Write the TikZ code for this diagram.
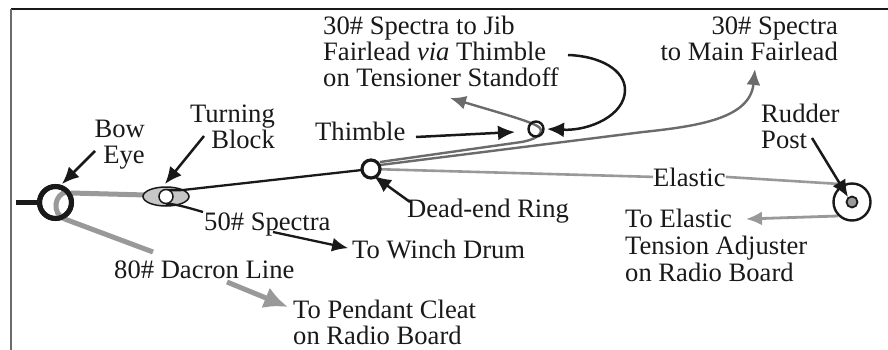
\documentclass[tikz,border=0pt]{standalone}
\usepackage{fontspec}
\setmainfont{Liberation Serif}
\usetikzlibrary{arrows.meta,shapes.geometric}
\definecolor{lgray}{gray}{0.6}
\definecolor{mgray}{gray}{0.42}
\definecolor{ink}{gray}{0.1}
\tikzset{
  x=1pt,y=-1pt,
  lbl/.style={font=\fontsize{26.6}{31}\selectfont,text=ink,inner sep=0pt},
  blackarrow/.style={draw=ink,line width=2.5pt,-{Latex[length=17pt,width=15pt]}},
  lightarrow/.style={draw=lgray,line width=2.8pt,-{Latex[length=16pt,width=14pt]}},
  heavyline/.style={draw=lgray,line width=5pt},
  thinblack/.style={draw=ink,line width=2.3pt},
  elasticline/.style={draw=lgray,line width=2.6pt},
  spectraline/.style={draw=mgray,line width=2.4pt},
  ringshape/.style={circle,draw=ink,inner sep=0pt},
}
\begin{document}
\begin{tikzpicture}
\useasboundingbox (0,0) rectangle (888,350);
\fill[white] (0,0) rectangle (888,350);
% frame
\coordinate (fa) at (11,350); \coordinate (fb) at (11,9); \coordinate (fc) at (888,9);
\draw[draw=ink,line width=1.2pt] (fb) -- (fc);
\draw[draw=mgray,line width=1.6pt] (fa) -- (fb);
% labels
\node[lbl,anchor=base east] (bow1) at (145,137) {Bow};
\node[lbl,anchor=base east] (bow2) at (145,163) {Eye};
\node[lbl,anchor=base east] (turn1) at (275,122) {Turning};
\node[lbl,anchor=base east] (turn2) at (275,148) {Block};
\node[lbl,anchor=base west] (s50) at (204,230) {50\# Spectra};
\node[lbl,anchor=base west] (d80) at (114,278) {80\# Dacron Line};
\node[lbl,anchor=base west] (winch) at (352,258) {To Winch Drum};
\node[lbl,anchor=base west] (pend1) at (293,318) {To Pendant Cleat};
\node[lbl,anchor=base west] (pend2) at (293,344) {on Radio Board};
\node[lbl,anchor=base west] (thimble) at (315,140) {Thimble};
\node[lbl,anchor=base west] (der) at (407,217) {Dead-end Ring};
\node[lbl,anchor=base west] (j1) at (323,35) {30\# Spectra to Jib};
\node[lbl,anchor=base west] (j2) at (323,61) {Fairlead \textit{via} Thimble};
\node[lbl,anchor=base west] (j3) at (323,87) {on Tensioner Standoff};
\node[lbl,anchor=base east] (m1) at (838,35) {30\# Spectra};
\node[lbl,anchor=base east] (m2) at (838,61) {to Main Fairlead};
\node[lbl,anchor=base west] (r1) at (761,122) {Rudder};
\node[lbl,anchor=base west] (r2) at (761,148) {Post};
\node[lbl,anchor=base west] (el) at (653,186) {Elastic};
\node[lbl,anchor=base west] (t1) at (625,227) {To Elastic};
\node[lbl,anchor=base west] (t2) at (625,254) {Tension Adjuster};
\node[lbl,anchor=base west] (t3) at (625,281) {on Radio Board};
% anchor points
\coordinate (stub) at (16,202.5);
\coordinate (be) at (55.5,202.5);
\coordinate (tb) at (166,196.5);
\coordinate (dr) at (371,169);
\coordinate (th) at (536,129);
\coordinate (rp) at (852,202);
% rings placed first so connectors can use them
\node[ringshape,line width=5pt,minimum size=32pt] (bering) at (be) {};
% dacron line
\draw[thinblack,line width=4.2pt] (stub) -- (bering.west);
\draw[heavyline] (71,193) -- (146,195);
\draw[heavyline] (67,192) .. controls (55,193) and (50,214) .. (66,219.5) -- (153,252);
\draw[heavyline,-{Latex[length=24pt,width=22pt]}] (227,282) -- (288,307);
\node[ringshape,line width=5pt,minimum size=32pt] at (be) {};
% turning block
\node[ellipse,draw=ink,fill=lgray!55,line width=1.5pt,minimum width=46pt,minimum height=19pt,inner sep=0pt] (block) at (tb) {};
\draw[thinblack] (166,190) .. controls (172,190) and (176,190.5) .. (183,190) -- (dr);
\draw[thinblack] (166,204) .. controls (172,204) and (176,204) .. (203,212);
\draw[thinblack,shorten >=4pt,-{Latex[length=16pt,width=14pt]}] (273,232) -- (winch.west);
\node[ringshape,fill=white,line width=1.5pt,minimum size=14pt] (sheave) at (tb) {};
% spectra lines
\draw[spectraline,-{Latex[length=16pt,width=14pt]}] (380,162) -- (518,142.5) .. controls (530,141) and (541,137) .. (541,130) .. controls (541,124) and (510,116) .. (450,98);
\draw[spectraline,-{Latex[length=16pt,width=14pt]}] (380,165) -- (643,132) .. controls (700,126) and (750,118) .. (755,69);
\draw[elasticline] (dr) -- (el.west);
\draw[elasticline] (el.east) -- (840,184);
\draw[lightarrow] (838,216) -- (746,219);
% rings
\node[ringshape,fill=white,line width=3.2pt,minimum size=18pt] (drring) at (dr) {};
\node[ringshape,line width=2.4pt,minimum size=15pt] (thring) at (th) {};
\node[ringshape,line width=2.4pt,minimum size=37pt] (rpring) at (rp) {};
\node[ringshape,fill=lgray,line width=1.8pt,minimum size=11pt] (rpdot) at (rp) {};
% black arrows
\draw[blackarrow] (95,151) -- (62,184);
\draw[blackarrow] (204,136) -- (165,184);
\draw[blackarrow] (416,137) -- (515,132);
\draw[blackarrow] (410,202) -- (374,176);
\draw[blackarrow] (568,55) .. controls (600,56) and (625,70) .. (625,90) .. controls (625,115) and (590,131) .. (547,129);
\draw[blackarrow] (812,138) -- (848,197);
\end{tikzpicture}
\end{document}
